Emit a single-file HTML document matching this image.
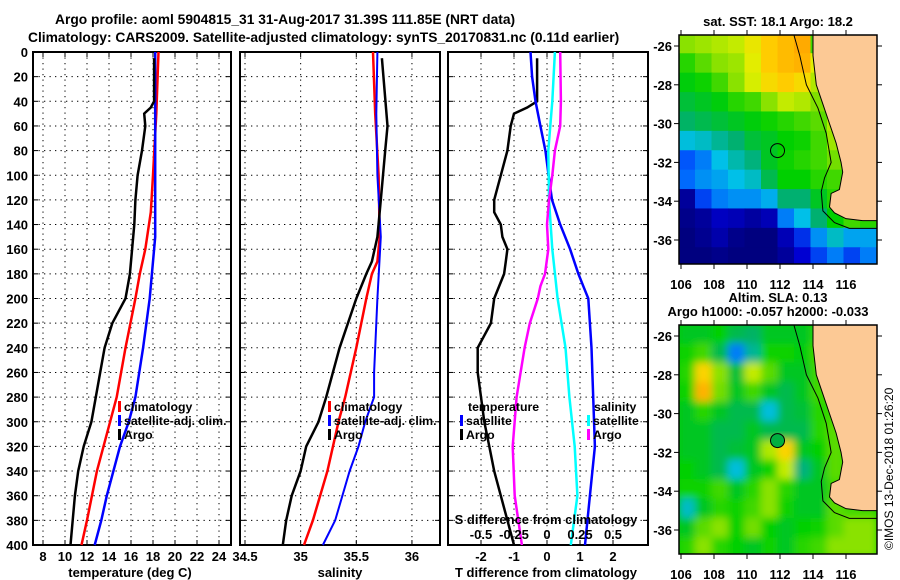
<!DOCTYPE html>
<html><head><meta charset="utf-8"><style>
body{margin:0;background:#fff}
svg{display:block;font-family:"Liberation Sans",sans-serif}
.b{font-weight:bold;font-size:13px}
.t{font-weight:bold;font-size:13.8px}
.l{font-weight:bold;font-size:12.3px}
</style></head><body>
<svg id="s" width="900" height="580" viewBox="0 0 900 580" xmlns="http://www.w3.org/2000/svg">
<text class="t" x="55" y="24">Argo profile: aoml 5904815_31 31-Aug-2017 31.39S 111.85E (NRT data)</text>
<text class="t" x="28" y="42">Climatology: CARS2009. Satellite-adjusted climatology: synTS_20170831.nc (0.11d earlier)</text>
<text class="b" x="778" y="26" text-anchor="middle">sat. SST: 18.1 Argo: 18.2</text>
<text class="b" x="778" y="302" text-anchor="middle">Altim. SLA: 0.13</text>
<text class="b" x="768" y="316" text-anchor="middle">Argo h1000: -0.057 h2000: -0.033</text>
<text x="893" y="550" font-size="12" transform="rotate(-90 893 550)">©IMOS 13-Dec-2018 01:26:20</text>
<g id="g"></g>
</svg>
<script>
// ---------- data ----------
const depthTicks=[0,20,40,60,80,100,120,140,160,180,200,220,240,260,280,300,320,340,360,380,400];
const tTicks=[8,10,12,14,16,18,20,22,24];
const sTicks=[34.5,35,35.5,36];
const sLabels=["34.5","35","35.5","36"];
const dTTicks=[-2,-1,0,1,2];
const dSTickLabels=["-0.5","-0.25","0","0.25","0.5"];
const dSTicks=[-0.5,-0.25,0,0.25,0.5];

const tClimD=[0,50,100,130,160,180,200,240,280,300,340,380,400];
const tClimV=[18.5,18.3,18.0,17.8,17.3,16.8,16.4,15.5,14.7,14.1,12.9,12.0,11.5];
const tSatD=[0,50,100,150,180,200,240,280,300,320,340,360,380,400];
const tSatV=[18.2,18.2,18.2,18.2,17.9,17.7,17.1,16.4,15.8,15.0,14.4,13.8,13.3,12.7];
const tArgoD=[5,40,45,50,60,80,100,120,140,160,180,200,220,240,260,280,300,320,340,360,380,400];
const tArgoV=[18.1,18.1,17.8,17.2,17.3,17.0,16.6,16.4,16.3,16.1,15.9,15.5,14.3,13.6,13.2,12.8,12.4,11.7,11.2,10.9,10.7,10.5];

const sClimD=[0,50,100,150,170,180,200,240,280,300,340,380,400];
const sClimV=[35.65,35.67,35.70,35.71,35.69,35.64,35.59,35.50,35.40,35.34,35.24,35.11,35.03];
const sSatD=[0,50,100,150,200,260,280,300,320,340,380,400];
const sSatV=[35.69,35.68,35.69,35.72,35.69,35.66,35.66,35.58,35.52,35.44,35.31,35.20];
const sArgoD=[5,60,80,100,120,150,170,180,200,240,280,300,320,340,360,380,400];
const sArgoV=[35.73,35.78,35.76,35.74,35.72,35.69,35.64,35.59,35.50,35.35,35.23,35.16,35.05,35.00,34.92,34.87,34.84];

const dTArgoD=[5,40,45,50,60,80,100,110,120,130,140,150,160,170,180,200,220,240,260,280,300,320,340,360,380,400];
const dTArgoV=[-0.3,-0.3,-0.6,-1.0,-1.1,-1.2,-1.4,-1.5,-1.6,-1.6,-1.4,-1.35,-1.2,-1.25,-1.3,-1.6,-1.7,-2.1,-2.1,-2.0,-1.9,-1.75,-1.6,-1.4,-1.2,-1.0];
const dTSatD=[0,20,40,60,80,100,120,140,160,180,190,200,240,280,320,360,400];
const dTSatV=[-0.5,-0.45,-0.35,-0.2,-0.05,0.05,0.15,0.4,0.7,0.95,1.1,1.25,1.35,1.4,1.45,1.3,1.15];
const dSSatD=[0,40,80,120,160,200,240,280,320,360,400];
const dSSatV=[0.06,0.04,0.01,0.015,0.04,0.08,0.14,0.17,0.21,0.23,0.18];
const dSArgoD=[0,40,60,80,100,120,140,160,180,190,200,220,240,260,280,320,360,400];
const dSArgoV=[0.1,0.105,0.1,0.06,0.04,0.015,0.0,0.01,-0.015,-0.05,-0.07,-0.13,-0.17,-0.2,-0.23,-0.26,-0.245,-0.19];

const lonTicks=[106,108,110,112,114,116];
const latTicks=[-26,-28,-30,-32,-34,-36];
// SST colour index grid (0=cold navy .. 1=warm orange), rows from 25.4S southward, cols from 106E eastward
const sstGrid=[
[0.66,0.68,0.70,0.72,0.78,0.86,0.90,0.94,0.60,0.5,0.5,0.5],
[0.58,0.62,0.66,0.68,0.76,0.86,0.90,0.92,0.75,0.5,0.5,0.5],
[0.54,0.56,0.60,0.66,0.74,0.82,0.86,0.82,0.70,0.6,0.5,0.5],
[0.50,0.52,0.54,0.58,0.60,0.66,0.72,0.70,0.65,0.6,0.5,0.5],
[0.46,0.48,0.50,0.52,0.54,0.56,0.58,0.60,0.62,0.70,0.6,0.5],
[0.36,0.38,0.42,0.45,0.50,0.52,0.55,0.56,0.60,0.68,0.6,0.5],
[0.24,0.28,0.35,0.40,0.44,0.52,0.56,0.58,0.60,0.64,0.6,0.5],
[0.26,0.30,0.32,0.35,0.38,0.48,0.55,0.55,0.58,0.60,0.6,0.5],
[0.05,0.22,0.28,0.30,0.30,0.33,0.45,0.45,0.52,0.58,0.6,0.55],
[0.02,0.05,0.12,0.10,0.06,0.10,0.28,0.35,0.45,0.55,0.60,0.58],
[0.00,0.03,0.08,0.02,0.00,0.00,0.10,0.20,0.30,0.38,0.32,0.32],
[0.00,0.00,0.02,0.00,0.00,0.00,0.05,0.15,0.22,0.28,0.22,0.28]];
const slaGrid=[
[0.52,0.52,0.55,0.48,0.46,0.52,0.52,0.52,0.58,0.6,0.6,0.6],
[0.56,0.60,0.48,0.28,0.42,0.56,0.56,0.54,0.60,0.6,0.6,0.6],
[0.58,0.84,0.66,0.50,0.72,0.62,0.52,0.52,0.60,0.6,0.6,0.6],
[0.56,0.92,0.64,0.52,0.60,0.52,0.48,0.52,0.60,0.6,0.6,0.6],
[0.52,0.58,0.52,0.48,0.48,0.36,0.48,0.50,0.58,0.6,0.6,0.6],
[0.52,0.52,0.48,0.48,0.52,0.48,0.48,0.48,0.58,0.62,0.6,0.6],
[0.52,0.52,0.48,0.50,0.52,0.70,0.84,0.52,0.55,0.62,0.6,0.6],
[0.55,0.52,0.48,0.36,0.52,0.56,0.72,0.44,0.52,0.62,0.6,0.6],
[0.56,0.56,0.60,0.52,0.58,0.66,0.58,0.52,0.52,0.60,0.6,0.6],
[0.38,0.52,0.58,0.56,0.60,0.66,0.56,0.52,0.52,0.62,0.6,0.6],
[0.52,0.62,0.66,0.55,0.64,0.55,0.52,0.55,0.56,0.62,0.66,0.66],
[0.58,0.66,0.58,0.55,0.52,0.56,0.52,0.58,0.60,0.66,0.66,0.66]];
const coastLon=[114.0,114.0,114.2,114.6,115.0,115.4,115.7,115.8,115.6,115.1,115.0,115.3,116.0,117.0,118.0];
const coastLat=[-25.3,-26.5,-28.0,-29.0,-30.0,-31.0,-32.0,-32.5,-33.4,-33.6,-34.3,-34.6,-34.9,-35.0,-35.0];
const isoLon=[112.8,113.2,113.6,114.3,114.8,115.0,115.1,114.7,114.5,114.6,115.3,116.2,118.0];
const isoLat=[-25.3,-26.5,-28.0,-29.2,-30.5,-31.5,-32.0,-32.8,-33.5,-34.5,-35.1,-35.4,-35.4];
const floatLon=111.85, floatLat=-31.39;

// ---------- drawing ----------
const NS='http://www.w3.org/2000/svg';
const G=document.getElementById('g');
function mk(t,a,p){const e=document.createElementNS(NS,t);for(const k in a)e.setAttribute(k,a[k]);(p||G).appendChild(e);return e;}
const y0=52,y1=545;
const yD=d=>y0+(d/400)*(y1-y0);

function panel(name,L,R,xf,ticks,labels,gridX){
  const g=mk('g',{});
  
  
  depthTicks.forEach(d=>{if(d>0&&d<400){const l=mk('line',{x1:L,x2:R,y1:yD(d),y2:yD(d),stroke:'#000','stroke-dasharray':'1.3 4.2','stroke-width':1},g);}
    mk('line',{x1:L,x2:L+5,y1:yD(d),y2:yD(d),stroke:'#000'},g);mk('line',{x1:R-5,x2:R,y1:yD(d),y2:yD(d),stroke:'#000'},g);});
  gridX.forEach(v=>{const x=xf(v);mk('line',{x1:x,x2:x,y1:y0,y2:y1,stroke:'#000','stroke-dasharray':'1.3 4.2'},g);
    mk('line',{x1:x,x2:x,y1:y0,y2:y0+5,stroke:'#000'},g);mk('line',{x1:x,x2:x,y1:y1-5,y2:y1,stroke:'#000'},g);});
  ticks.forEach((v,i)=>{const t=mk('text',{x:xf(v),y:561,'text-anchor':'middle','class':'b'},g);t.textContent=labels[i];
    });
  const r=mk('rect',{x:L,y:y0,width:R-L,height:y1-y0,fill:'none',stroke:'#000','stroke-width':2},g);
  
  return g;
}
function line(g,name,D,V,xf,col,w){
  const p=mk('polyline',{points:D.map((d,i)=>xf(V[i]).toFixed(1)+','+yD(d).toFixed(1)).join(' '),fill:'none',stroke:col,'stroke-width':w},g);
  
  
}
function txt(g,name,x,y,s,anchor,cls){const t=mk('text',{x:x,y:y,'class':cls||'b','text-anchor':anchor||'start'},g);t.textContent=s;
  return t;}
function leg(g,x,y,col,label){mk('rect',{x:x,y:y-10,width:3,height:11,fill:col},g);txt(g,'legend-entry',x+6,y,label,'start','l');}

// depth labels
depthTicks.forEach(d=>{const t=mk('text',{x:28,y:yD(d)+5,'text-anchor':'end','class':'b'});t.textContent=d;
  });

// Panel 1 temperature
const xT=v=>43+(v-8)*11;
const p1=panel('temperature-panel',33,231,xT,tTicks,tTicks.map(String),tTicks);
line(p1,'temp-climatology-line',tClimD,tClimV,xT,'#f00',2.5);
line(p1,'temp-satellite-line',tSatD,tSatV,xT,'#00f',2.5);
line(p1,'temp-argo-line',tArgoD,tArgoV,xT,'#000',2.5);
txt(p1,'temperature-axis-title',130,577,'temperature (deg C)','middle');
leg(p1,118,411,'#f00','climatology');leg(p1,118,425,'#00f','satellite-adj. clim.');leg(p1,118,439,'#000','Argo');

// Panel 2 salinity
const xS=v=>245+(v-34.5)*111.3;
const p2=panel('salinity-panel',240,440,xS,sTicks,sLabels,sTicks);
line(p2,'sal-climatology-line',sClimD,sClimV,xS,'#f00',2.5);
line(p2,'sal-satellite-line',sSatD,sSatV,xS,'#00f',2);
line(p2,'sal-argo-line',sArgoD,sArgoV,xS,'#000',2.5);
txt(p2,'salinity-axis-title',340,577,'salinity','middle');
leg(p2,328,411,'#f00','climatology');leg(p2,328,425,'#00f','satellite-adj. clim.');leg(p2,328,439,'#000','Argo');

// Panel 3 differences
const xdT=v=>547+v*33, xdS=v=>547+v*132;
const p3=panel('difference-panel',448,648,xdT,dTTicks,dTTicks.map(String),dTTicks);
line(p3,'tdiff-argo-line',dTArgoD,dTArgoV,xdT,'#000',2.5);
line(p3,'tdiff-satellite-line',dTSatD,dTSatV,xdT,'#00f',2.5);
line(p3,'sdiff-satellite-line',dSSatD,dSSatV,xdS,'#0ff',2.5);
line(p3,'sdiff-argo-line',dSArgoD,dSArgoV,xdS,'#f0f',2.5);
dSTicks.forEach((v,i)=>txt(p3,'s-tick-label',xdS(v),539,dSTickLabels[i],'middle'));
txt(p3,'s-diff-axis-title',546,524,'S difference from climatology','middle');
txt(p3,'t-diff-axis-title',546,577,'T difference from climatology','middle');
txt(p3,'legend-temperature-header',468,411,'temperature','start','l');
leg(p3,460,425,'#00f','satellite');leg(p3,460,439,'#000','Argo');
txt(p3,'legend-salinity-header',594,411,'salinity','start','l');
leg(p3,587,425,'#0ff','satellite');leg(p3,587,439,'#f0f','Argo');

// ---------- maps ----------
const stops=[[0,[0,0,127]],[0.15,[0,0,210]],[0.25,[0,96,255]],[0.35,[0,192,232]],[0.45,[0,176,112]],[0.55,[0,208,0]],[0.65,[128,224,0]],[0.75,[224,240,0]],[0.85,[255,208,0]],[1,[255,144,0]]];
function cmap(v){for(let i=1;i<stops.length;i++){if(v<=stops[i][0]){const a=stops[i-1],b=stops[i],f=(v-a[0])/(b[0]-a[0]);
  const c=a[1].map((x,k)=>Math.round(x+(b[1][k]-x)*f));return 'rgb('+c+')';}}return 'rgb(255,144,0)';}
mk('defs',{}).innerHTML='<filter id="bl" x="-5%" y="-5%" width="110%" height="110%"><feGaussianBlur stdDeviation="4"/></filter><clipPath id="c1"><rect x="679" y="35" width="198" height="229"/></clipPath><clipPath id="c2"><rect x="679" y="325" width="198" height="229"/></clipPath>';
function map(name,top,lat0y,grid,blur,clip){
  const lx=v=>681+(v-106)*16.5, ly=v=>lat0y+(-26-v)*19.4;
  const g=mk('g',{'clip-path':'url(#'+clip+')'});
  
  mk('rect',{x:670,y:top-10,width:220,height:250,fill:cmap(blur?0.55:0.1)},g);
  const cg=mk('g',blur?{filter:'url(#bl)'}:{},g);
  const lat0=-25.4, dl=(37.4-25.4)/grid.length;
  grid.forEach((row,r)=>row.forEach((v,c)=>{mk('rect',{x:lx(106+c)-2.5,y:ly(lat0-r*dl)-0.5,width:17.5,height:dl*19.4+1,fill:cmap(v)},cg);}));
  const land=coastLon.map((v,i)=>lx(v)+','+ly(coastLat[i])).join(' ')+' '+lx(118)+','+ly(-25.3);
  const lp=mk('polygon',{points:land,fill:'#fcc995',stroke:'#000','stroke-width':1},g);
  
  mk('polyline',{points:isoLon.map((v,i)=>lx(v)+','+ly(isoLat[i])).join(' '),fill:'none',stroke:'#000','stroke-width':1},g);
  const fc=mk('circle',{cx:lx(floatLon),cy:ly(floatLat),r:7,fill:blur?'#00b040':'none',stroke:'#000','stroke-width':1},g);
  
  const f=mk('rect',{x:679,y:top,width:198,height:229,fill:'none',stroke:'#000','stroke-width':1.5});
  
  lonTicks.forEach(v=>{mk('line',{x1:lx(v),x2:lx(v),y1:top-5,y2:top,stroke:'#000'});mk('line',{x1:lx(v),x2:lx(v),y1:top+229,y2:top+234,stroke:'#000'});
    const t=txt(G,'lon-tick-label',lx(v),top+254,String(v),'middle');t.setAttribute('font-size','14');});
  latTicks.forEach(v=>{mk('line',{x1:674,x2:679,y1:ly(v),y2:ly(v),stroke:'#000'});mk('line',{x1:877,x2:882,y1:ly(v),y2:ly(v),stroke:'#000'});
    const t=txt(G,'lat-tick-label',672,ly(v)+5,String(v),'end');t.setAttribute('font-size','14');});
}
map('sst-map',35,46,sstGrid,false,'c1');
map('sla-map',325,336,slaGrid,true,'c2');
</script>
</body></html>
